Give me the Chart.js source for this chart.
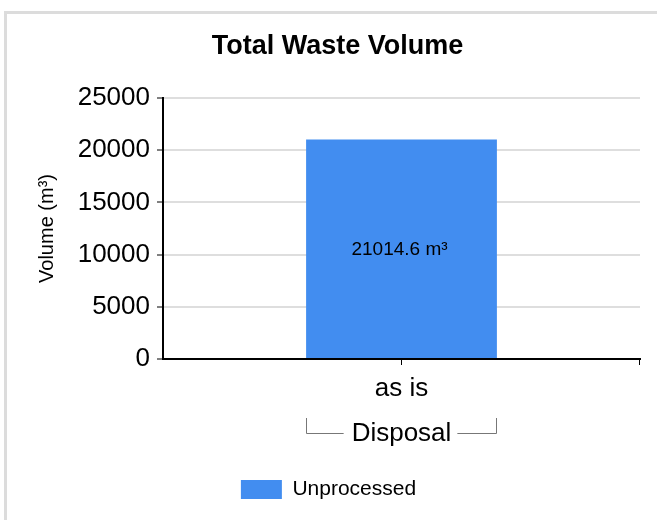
<!DOCTYPE html>
<html>
<head>
<meta charset="utf-8">
<script src="https://cdn.jsdelivr.net/npm/chart.js@4"></script>
<style>
  html, body { margin: 0; padding: 0; background: #fff; }
  #wrap { position: relative; width: 657px; height: 520px; }
</style>
</head>
<body>
<div id="wrap"><canvas id="chart" width="657" height="520"></canvas></div>
<script>
const categories = ['as is'];
const groupLabel = 'Disposal';
const seriesName = 'Unprocessed';
const unprocessed = [21014.6];
const unit = 'm³';
const yMin = 0;
const yMax = 25000;
const yStep = 5000;
const chartTitle = 'Total Waste Volume';

const barColor = '#428df0';
const font = '"Liberation Sans", Arial, sans-serif';

// light frame around the chart + title (sits a bit right of centre)
const framePlugin = {
  id: 'frame',
  beforeDraw(chart) {
    const ctx = chart.ctx;
    const area = chart.chartArea;
    ctx.save();
    ctx.strokeStyle = '#dcdcdc';
    ctx.lineWidth = 3;
    ctx.beginPath();
    ctx.moveTo(5.5, 520);
    ctx.lineTo(5.5, 12.5);
    ctx.lineTo(657, 12.5);
    ctx.stroke();

    ctx.fillStyle = '#000';
    ctx.font = 'bold 27px ' + font;
    ctx.textAlign = 'center';
    ctx.textBaseline = 'middle';
    ctx.fillText(chartTitle, chart.width / 2 + 9, area.top - 51);
    ctx.restore();
  }
};

// value inside bar + group bracket under the category labels
const labelsPlugin = {
  id: 'barLabels',
  afterDraw(chart) {
    const ctx = chart.ctx;
    const meta = chart.getDatasetMeta(0);
    const area = chart.chartArea;
    ctx.save();
    // right end tick on x axis
    ctx.strokeStyle = '#000';
    ctx.lineWidth = 1;
    ctx.beginPath();
    ctx.moveTo(area.right - 0.5, area.bottom);
    ctx.lineTo(area.right - 0.5, area.bottom + 6);
    ctx.stroke();

    meta.data.forEach((bar, i) => {
      const v = unprocessed[i];
      const midY = (bar.y + bar.base) / 2;
      ctx.fillStyle = '#000';
      ctx.font = '19px ' + font;
      ctx.textAlign = 'center';
      ctx.textBaseline = 'middle';
      ctx.fillText(v + ' ' + unit, bar.x - 2, midY + 1);
    });

    const first = meta.data[0];
    const last = meta.data[meta.data.length - 1];
    const x0 = Math.round(first.x - first.width / 2) + 0.5;
    const x1 = Math.round(last.x + last.width / 2) - 0.5;
    const cx = (x0 + x1) / 2;
    const yTop = area.bottom + 59;
    const yLine = area.bottom + 74.5;
    ctx.font = '26px ' + font;
    const tw = ctx.measureText(groupLabel).width;
    ctx.strokeStyle = '#777';
    ctx.lineWidth = 1;
    ctx.beginPath();
    ctx.moveTo(x0, yTop);
    ctx.lineTo(x0, yLine);
    ctx.lineTo(cx - tw / 2 - 8, yLine);
    ctx.moveTo(cx + tw / 2 + 6, yLine);
    ctx.lineTo(x1, yLine);
    ctx.lineTo(x1, yTop);
    ctx.stroke();
    ctx.fillStyle = '#000';
    ctx.textAlign = 'center';
    ctx.textBaseline = 'middle';
    ctx.fillText(groupLabel, cx, yLine);
    ctx.restore();
  }
};

new Chart(document.getElementById('chart'), {
  type: 'bar',
  data: {
    labels: categories,
    datasets: [{
      label: seriesName,
      data: unprocessed,
      backgroundColor: barColor,
      borderWidth: 0,
      barPercentage: 0.4,
      categoryPercentage: 1,
      yAxisID: 'y'
    }]
  },
  options: {
    responsive: false,
    animation: false,
    layout: {
      padding: { top: 98, right: 0, bottom: 10, left: 0 }
    },
    plugins: {
      title: { display: false },
      legend: {
        position: 'bottom',
        labels: {
          color: '#000',
          font: { family: font, size: 21 },
          boxWidth: 41,
          boxHeight: 19,
          padding: 10
        }
      },
      tooltip: { enabled: false }
    },
    scales: {
      x: {
        grid: {
          offset: false,
          drawOnChartArea: false,
          tickColor: '#000',
          tickLength: 6,
          tickWidth: 1
        },
        border: { color: '#000', width: 2 },
        ticks: {
          color: '#000',
          padding: 8,
          font: { family: font, size: 26 }
        },
        afterFit(scale) {
          scale.height = 110;
        }
      },
      y: {
        min: yMin,
        max: yMax,
        ticks: {
          stepSize: yStep,
          color: '#000',
          padding: 7,
          font: { family: font, size: 26 },
          callback: (v) => String(v)
        },
        grid: {
          color: '#dedede',
          lineWidth: 2,
          tickColor: '#000',
          tickLength: 6,
          tickWidth: 1
        },
        border: { color: '#000', width: 2 },
        title: {
          display: true,
          text: 'Volume (m³)',
          color: '#000',
          font: { family: font, size: 20 },
          padding: { top: 35, bottom: 0 }
        },
        afterFit(scale) {
          scale.width = 163;
        }
      },
      // empty strip on the right so the plot ends before the canvas edge
      spacer: {
        type: 'linear',
        position: 'right',
        display: true,
        grid: { display: false },
        border: { display: false },
        ticks: { display: false },
        afterFit(scale) {
          scale.width = 17;
        }
      }
    }
  },
  plugins: [framePlugin, labelsPlugin]
});
</script>
</body>
</html>
